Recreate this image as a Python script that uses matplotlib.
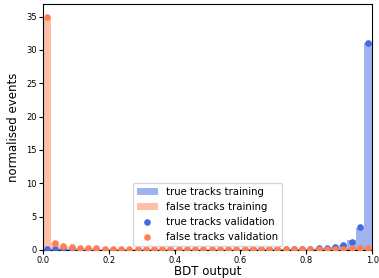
import matplotlib
matplotlib.use("Agg")
import matplotlib.pyplot as plt
import numpy as np

# 40 bins over the BDT output range
bin_edges = np.linspace(0.0, 1.0, 41)

true_train = [0.15, 0.12, 0.08, 0.06, 0.05, 0.05, 0.04, 0.04, 0.04, 0.04,
              0.04, 0.04, 0.04, 0.04, 0.04, 0.04, 0.04, 0.04, 0.05, 0.05,
              0.05, 0.05, 0.05, 0.06, 0.06, 0.07, 0.07, 0.08, 0.09, 0.1,
              0.12, 0.14, 0.17, 0.22, 0.3, 0.45, 0.75, 1.45, 3.35, 31.0]
true_val = [0.2, 0.18, 0.1, 0.07, 0.06, 0.05, 0.05, 0.05, 0.04, 0.04,
            0.04, 0.04, 0.04, 0.04, 0.04, 0.04, 0.04, 0.05, 0.05, 0.05,
            0.05, 0.05, 0.06, 0.06, 0.06, 0.07, 0.08, 0.08, 0.09, 0.1,
            0.12, 0.15, 0.18, 0.22, 0.3, 0.45, 0.7, 1.2, 3.4, 31.0]
false_train = [35.0, 1.0, 0.55, 0.38, 0.3, 0.25, 0.22, 0.2, 0.2, 0.2,
               0.19, 0.19, 0.18, 0.18, 0.18, 0.18, 0.18, 0.18, 0.18, 0.18,
               0.18, 0.18, 0.18, 0.18, 0.18, 0.18, 0.18, 0.18, 0.18, 0.18,
               0.18, 0.18, 0.18, 0.18, 0.19, 0.2, 0.2, 0.22, 0.25, 0.3]
false_val = [35.0, 1.1, 0.6, 0.4, 0.32, 0.26, 0.22, 0.2, 0.2, 0.2,
             0.19, 0.19, 0.18, 0.18, 0.18, 0.18, 0.18, 0.18, 0.18, 0.18,
             0.18, 0.18, 0.18, 0.18, 0.18, 0.18, 0.18, 0.18, 0.18, 0.18,
             0.18, 0.18, 0.18, 0.18, 0.19, 0.2, 0.2, 0.22, 0.25, 0.35]

centers = 0.5 * (bin_edges[:-1] + bin_edges[1:])
width = bin_edges[1] - bin_edges[0]

fig = plt.figure(figsize=(3.79, 2.78), dpi=100)
ax = fig.add_axes([0.113, 0.101, 0.869, 0.885])

b1 = ax.bar(centers, true_train, width=width, color='royalblue', alpha=0.5,
            label='true tracks training')
b2 = ax.bar(centers, false_train, width=width, color='coral', alpha=0.5,
            label='false tracks training')
s1 = ax.scatter(centers, true_val, s=14, color='royalblue', zorder=3,
                label='true tracks validation')
s2 = ax.scatter(centers, false_val, s=14, color='coral', zorder=3,
                label='false tracks validation')

ax.set_xlim(0, 1)
ax.set_ylim(0, 36.9)
ax.set_xticks([0.0, 0.2, 0.4, 0.6, 0.8, 1.0])
ax.set_yticks(range(0, 36, 5))
ax.tick_params(labelsize=6, length=3, pad=1.5)
ax.set_xlabel('BDT output', fontsize=8.5, labelpad=0)
ax.set_ylabel('normalised events', fontsize=8.5, labelpad=4)
ax.legend([b1, b2, s1, s2],
          ['true tracks training', 'false tracks training',
           'true tracks validation', 'false tracks validation'],
          loc='lower center', fontsize=7.3, borderaxespad=0.4)

fig.savefig('out.png', dpi=100)
